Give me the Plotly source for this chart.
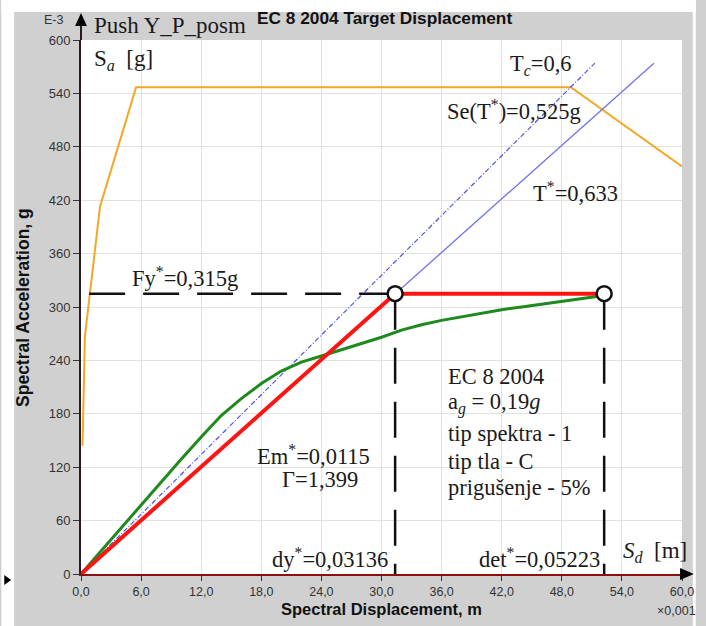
import plotly.graph_objects as go

# ---- data (Sd in mm i.e. x0.001 m, Sa in E-3 g) ----
spec_sd = [0.15, 0.39, 1.9, 5.5, 48.9, 60.0]
spec_sa = [144, 267, 413, 547, 547, 458]

cap_sd = [0, 2, 4, 6, 8, 10, 12, 14, 16, 18, 20, 22, 24, 26, 28, 30, 32, 34, 36,
          38, 40, 42, 44, 46, 48, 50, 52.2]
cap_sa = [0, 26, 52, 77, 103, 129, 154, 178, 197, 214, 228, 238, 245, 252, 259,
          266, 274, 280, 285, 289, 293, 297, 300, 303, 306, 309, 313]

tc_sd = [0, 51.3]
tc_sa = [0, 574]
tstar_sd = [0, 57.2]
tstar_sa = [0, 574]

bil_sd = [0, 31.36, 52.23]
bil_sa = [0, 315, 315]

dy = 31.36
det = 52.23
fy = 315

x_ticks = [0, 6, 12, 18, 24, 30, 36, 42, 48, 54, 60]
x_tick_text = ["0,0", "6,0", "12,0", "18,0", "24,0", "30,0", "36,0", "42,0",
               "48,0", "54,0", "60,0"]
y_ticks = [0, 60, 120, 180, 240, 300, 360, 420, 480, 540, 600]
y_tick_text = [str(v) for v in y_ticks]

W, H = 706, 626
ML, MR, MT, MB = 81, 14, 40, 52
PW, PH = W - ML - MR, H - MT - MB


def px(x):
    return (x - ML) / PW


def py(y):
    return (H - MB - y) / PH


SERIF = "Liberation Serif"
SANS = "Liberation Sans"
FS = 22.5

fig = go.Figure()

fig.add_trace(go.Scatter(x=spec_sd, y=spec_sa, mode="lines",
                         line=dict(color="#f5a623", width=2), hoverinfo="skip"))
fig.add_trace(go.Scatter(x=tc_sd, y=tc_sa, mode="lines",
                         line=dict(color="#5050f0", width=1.2, dash="5px,2px,1px,2px"),
                         hoverinfo="skip"))
fig.add_trace(go.Scatter(x=tstar_sd, y=tstar_sa, mode="lines",
                         line=dict(color="#7070ea", width=1.3), hoverinfo="skip"))
fig.add_trace(go.Scatter(x=cap_sd, y=cap_sa, mode="lines",
                         line=dict(color="#1e8a1e", width=3), hoverinfo="skip"))
fig.add_trace(go.Scatter(x=bil_sd, y=bil_sa, mode="lines",
                         line=dict(color="#ff1414", width=4), hoverinfo="skip"))
# dashed guide lines from the bilinear points to the axes
fig.add_trace(go.Scatter(x=[dy, 0], y=[fy, fy], mode="lines",
                         line=dict(color="#111111", width=2.5, dash="36px,18px"),
                         hoverinfo="skip"))
for xv in (dy, det):
    fig.add_trace(go.Scatter(x=[xv, xv], y=[fy, 0], mode="lines",
                             line=dict(color="#111111", width=2.5, dash="36px,18px"),
                             hoverinfo="skip"))
fig.add_trace(go.Scatter(x=[dy, det], y=[fy, fy], mode="markers",
                         marker=dict(size=15, color="white",
                                     line=dict(color="#111111", width=2.5)),
                         hoverinfo="skip"))

ann = []


def note(text, x, y, xanchor="left", size=FS, xref="x", yref="y", font=SERIF,
         color="#1a1a1a", angle=0):
    ann.append(dict(text=text, x=x, y=y, xref=xref, yref=yref, xanchor=xanchor,
                    yanchor="middle", showarrow=False, textangle=angle,
                    font=dict(family=font, size=size, color=color)))


note("Push Y_P_posm", px(92), py(26), xref="paper", yref="paper", size=23)
note("<b>EC 8 2004 Target Displacement</b>", px(258), py(18), xref="paper",
     yref="paper", font=SANS, size=17.3, color="#111111")
note("E-3", px(66), py(20), xanchor="right", xref="paper", yref="paper",
     font=SANS, size=12.5, color="#333333")
note("S<sub><i>a</i></sub>  [g]", 1.1, 578, size=23)
note("T<sub><i>c</i></sub>=0,6", 42.6, 572)
note("Se(T<sup>*</sup>)=0,525g", 36.3, 521)
note("T<sup>*</sup>=0,633", 44.9, 429)
note("Fy<sup>*</sup>=0,315g", 4.9, 334)
note("Em<sup>*</sup>=0,0115", 17.4, 134)
note("Γ=1,399", 19.9, 106)
note("EC 8 2004", 36.4, 222)
note("a<sub><i>g</i></sub> = 0,19<i>g</i>", 36.4, 192)
note("tip spektra - 1", 36.4, 158)
note("tip tla - C", 36.4, 126)
note("prigušenje - 5%", 36.4, 97)
note("dy<sup>*</sup>=0,03136", 30.8, 18, xanchor="right")
note("det<sup>*</sup>=0,05223", 52.0, 18, xanchor="right")
note("<i>S</i><sub><i>d</i></sub>  [m]", 53.9, 25, size=23)
note("<b>Spectral Acceleration, g</b>", px(22), 0.5, xanchor="center",
     xref="paper", yref="paper", font=SANS, size=17.5, color="#111111", angle=-90)
note("<b>Spectral Displacement, m</b>", 0.5, py(609), xanchor="center",
     xref="paper", yref="paper", font=SANS, size=16.5, color="#111111")
note("×0,001", px(665), py(611), xanchor="left", xref="paper", yref="paper",
     font=SANS, size=12.5, color="#333333")

shapes = [
    # white surround outside the grey chart frame
    dict(type="rect", xref="paper", yref="paper", x0=px(0), x1=px(W), y0=py(12),
         y1=py(0), fillcolor="white", line=dict(width=0), layer="below"),
    dict(type="rect", xref="paper", yref="paper", x0=px(0), x1=px(13), y0=py(H),
         y1=py(0), fillcolor="white", line=dict(width=0), layer="below"),
    dict(type="rect", xref="paper", yref="paper", x0=px(703), x1=px(W), y0=py(H),
         y1=py(0), fillcolor="white", line=dict(width=0), layer="below"),
    # y-axis extension and arrow head
    dict(type="line", xref="paper", yref="paper", x0=px(81), x1=px(81),
         y0=py(40), y1=py(24), line=dict(color="#2b1d1d", width=2)),
    dict(type="path", xref="paper", yref="paper",
         path=f"M {px(75)},{py(26)} L {px(81)},{py(13)} L {px(87)},{py(26)} Z",
         fillcolor="#000000", line=dict(width=0)),
    # x-axis arrow head
    dict(type="path", xref="paper", yref="paper",
         path=f"M {px(690)},{py(568)} L {px(704)},{py(574)} L {px(690)},{py(580)} Z",
         fillcolor="#000000", line=dict(width=0)),
    # small marker at the far left
    dict(type="path", xref="paper", yref="paper",
         path=f"M {px(3)},{py(575)} L {px(10)},{py(580)} L {px(3)},{py(585)} Z",
         fillcolor="#000000", line=dict(width=0)),
]

fig.update_layout(
    width=W, height=H,
    margin=dict(l=ML, r=MR, t=MT, b=MB),
    paper_bgcolor="#d0d0d0",
    plot_bgcolor="white",
    showlegend=False,
    annotations=ann,
    shapes=shapes,
    xaxis=dict(range=[0, 60], tickvals=x_ticks, ticktext=x_tick_text,
               showgrid=True, gridcolor="#e2e2e2", gridwidth=1, zeroline=False,
               showline=True, linecolor="#8b1010", linewidth=2,
               ticks="outside", ticklen=5, tickcolor="#333333",
               tickfont=dict(family=SANS, size=12.5, color="#333333")),
    yaxis=dict(range=[0, 600], tickvals=y_ticks, ticktext=y_tick_text,
               showgrid=True, gridcolor="#e2e2e2", gridwidth=1, zeroline=False,
               showline=True, linecolor="#2b1d1d", linewidth=2,
               ticks="outside", ticklen=6, tickcolor="#333333",
               tickfont=dict(family=SANS, size=13, color="#333333")),
)

fig.write_html("out.html")
